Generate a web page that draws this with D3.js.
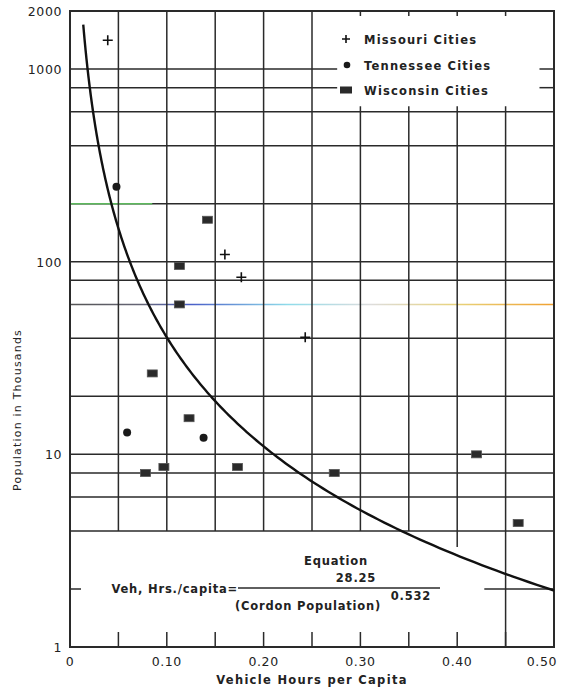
<!DOCTYPE html>
<html>
<head>
<meta charset="utf-8">
<script src="https://cdn.jsdelivr.net/npm/d3@7"></script>
<style>
  body { margin: 0; background: #fff; }
  text { font-family: "DejaVu Sans", sans-serif; fill: #222; }
</style>
</head>
<body>
<div id="chart"></div>
<script>
// data (x = vehicle hours per capita, y = population in thousands)
const missouriX = [0.039, 0.160, 0.177, 0.243];
const missouriY = [1410, 109, 83, 40.5];
const tennesseeX = [0.048, 0.059, 0.138];
const tennesseeY = [245, 13.0, 12.2];
const wisconsinX = [0.142, 0.113, 0.113, 0.085, 0.123, 0.078, 0.097, 0.173, 0.273, 0.420, 0.463];
const wisconsinY = [165, 95, 60, 26.3, 15.4, 8.0, 8.6, 8.6, 8.0, 10.0, 4.4];

// fitted equation shown on the chart: hrs = 28.25 / (population)^0.532
const eqCoef = 28.25, eqExp = 0.532;

const xTicks = [0, 0.1, 0.2, 0.3, 0.4, 0.5];
const xGrid = [0.05, 0.10, 0.15, 0.20, 0.25, 0.30, 0.35, 0.40, 0.45];
const yTicks = [1, 10, 100, 1000, 2000];
const yGrid = [4, 6, 8, 10, 20, 40, 60, 80, 100, 200, 400, 600, 800, 1000];

const W = 564, H = 689;
const margin = {top: 11, right: 10, bottom: 42, left: 70};

const svg = d3.select("#chart").append("svg")
    .attr("width", W).attr("height", H);

const x = d3.scaleLinear().domain([0, 0.5]).range([margin.left, W - margin.right]);
const y = d3.scaleLog().domain([1, 2000]).range([H - margin.bottom, margin.top]);

const ink = "#2a2a2a";

// colour artefacts of the scan on two grid lines
const defs = svg.append("defs");
const grad = defs.append("linearGradient").attr("id", "rainbow")
    .attr("gradientUnits", "userSpaceOnUse")
    .attr("x1", x(0)).attr("x2", x(0.5)).attr("y1", 0).attr("y2", 0);
[[0, "#555"], [0.15, "#667"], [0.25, "#4a5fc8"], [0.45, "#8fdcea"], [0.62, "#ddd"], [0.8, "#e8d27a"], [1, "#f0a030"]]
  .forEach(s => grad.append("stop").attr("offset", s[0]).attr("stop-color", s[1]));

// legend box region, where the grid is left out
const legX0 = x(0.276), legX1 = x(0.485), legY0 = y(1850), legY1 = y(640);

const grid = svg.append("g").attr("stroke", ink).attr("stroke-width", 1.5);

// horizontal grid
yGrid.forEach(v => {
  if (v === 1000 || v === 800) {
    grid.append("line").attr("x1", x(0)).attr("x2", legX0).attr("y1", y(v)).attr("y2", y(v));
    grid.append("line").attr("x1", legX1).attr("x2", x(0.5)).attr("y1", y(v)).attr("y2", y(v));
  } else {
    const l = grid.append("line").attr("x1", x(0)).attr("x2", x(0.5)).attr("y1", y(v)).attr("y2", y(v));
    if (v === 60) l.attr("stroke", "url(#rainbow)");
  }
});
// green tint on the 200 line
grid.append("line").attr("x1", x(0)).attr("x2", x(0.085)).attr("y1", y(200)).attr("y2", y(200))
    .attr("stroke", "#5cb85c");

// vertical grid
xGrid.forEach(v => {
  const bottom = v === 0.45 ? y(1) : (v === 0.40 ? y(3.3) : y(4));
  if (v >= 0.30) {
    grid.append("line").attr("x1", x(v)).attr("x2", x(v)).attr("y1", y(2000)).attr("y2", y(2000) + 5);
    grid.append("line").attr("x1", x(v)).attr("x2", x(v)).attr("y1", legY1).attr("y2", bottom);
  } else {
    grid.append("line").attr("x1", x(v)).attr("x2", x(v)).attr("y1", y(2000)).attr("y2", bottom);
  }
  // short tick from the bottom axis
  grid.append("line").attr("x1", x(v)).attr("x2", x(v)).attr("y1", y(1)).attr("y2", y(1) - 15);
});

// ticks at y = 2 on both sides
grid.append("line").attr("x1", x(0)).attr("x2", x(0) + 11).attr("y1", y(2)).attr("y2", y(2));
grid.append("line").attr("x1", x(0.428)).attr("x2", x(0.5)).attr("y1", y(2)).attr("y2", y(2));

// frame
svg.append("rect")
    .attr("x", x(0)).attr("y", y(2000))
    .attr("width", x(0.5) - x(0)).attr("height", y(1) - y(2000))
    .attr("fill", "none").attr("stroke", ink).attr("stroke-width", 2);

// axes labels
const xFmt = d => d === 0 ? "0" : d3.format(".2f")(d);
svg.append("g").selectAll("text").data(xTicks).join("text")
    .attr("x", d => d === 0.5 ? x(d) + 3 : x(d))
    .attr("y", y(1) + 19)
    .attr("text-anchor", d => d === 0.5 ? "end" : "middle")
    .style("font-size", "12.5px").style("letter-spacing", "0.6px")
    .text(xFmt);

svg.append("g").selectAll("text").data(yTicks).join("text")
    .attr("x", x(0) - 8).attr("y", d => y(d) + 5)
    .attr("text-anchor", "end")
    .style("font-size", "12.5px").style("letter-spacing", "0.6px")
    .text(d => d);

svg.append("text")
    .attr("x", x(0.25)).attr("y", H - 5)
    .attr("text-anchor", "middle")
    .style("font-size", "11.5px").style("font-weight", "bold").style("letter-spacing", "1.3px")
    .text("Vehicle Hours per Capita");

svg.append("text")
    .attr("transform", `translate(21, ${y(17)}) rotate(-90)`)
    .attr("text-anchor", "middle")
    .style("font-size", "11px").style("letter-spacing", "1.2px")
    .text("Population in Thousands");

// equation curve
const popMax = 1700, popMin = Math.pow(eqCoef / 0.5, 1 / eqExp) / 1000;
const curvePts = d3.range(0, 201).map(i => {
  const p = popMax * Math.pow(popMin / popMax, i / 200);
  return [eqCoef / Math.pow(p * 1000, eqExp), p];
});
svg.append("path")
    .datum(curvePts)
    .attr("d", d3.line().x(d => x(d[0])).y(d => y(d[1])))
    .attr("fill", "none").attr("stroke", "#111").attr("stroke-width", 2.4);

// points
const pts = svg.append("g");
pts.selectAll(".mo").data(d3.zip(missouriX, missouriY)).join("path")
    .attr("d", d => `M${x(d[0]) - 5},${y(d[1])}h10M${x(d[0])},${y(d[1]) - 5}v10`)
    .attr("stroke", "#111").attr("stroke-width", 1.6);
pts.selectAll(".tn").data(d3.zip(tennesseeX, tennesseeY)).join("circle")
    .attr("cx", d => x(d[0])).attr("cy", d => y(d[1])).attr("r", 4)
    .attr("fill", "#1a1a1a");
pts.selectAll(".wi").data(d3.zip(wisconsinX, wisconsinY)).join("rect")
    .attr("x", d => x(d[0]) - 5).attr("y", d => y(d[1]) - 3.5)
    .attr("width", 10).attr("height", 7)
    .attr("fill", "#2a2a2a").attr("stroke", "#555").attr("stroke-width", 0.8);

// legend
const legend = svg.append("g");
const legItems = ["Missouri Cities", "Tennessee Cities", "Wisconsin Cities"];
const legYs = [39, 65, 90];
legItems.forEach((t, i) => {
  const cx = 346, cy = legYs[i];
  if (i === 0) legend.append("path").attr("d", `M${cx - 4},${cy}h8M${cx},${cy - 4}v8`)
      .attr("stroke", "#111").attr("stroke-width", 1.6);
  if (i === 1) legend.append("circle").attr("cx", cx + 1).attr("cy", cy).attr("r", 3.3).attr("fill", "#1a1a1a");
  if (i === 2) legend.append("rect").attr("x", cx - 6).attr("y", cy - 3.5).attr("width", 12).attr("height", 7)
      .attr("fill", "#2a2a2a");
  legend.append("text").attr("x", 364).attr("y", cy + 4.5)
      .style("font-size", "11.5px").style("font-weight", "bold").style("letter-spacing", "1.2px")
      .text(t);
});

// equation box text
const eq = svg.append("g").style("font-size", "11.5px").style("font-weight", "bold").style("letter-spacing", "0.8px");
eq.append("text").attr("x", 336).attr("y", 565).attr("text-anchor", "middle").text("Equation");
eq.append("text").attr("x", 356).attr("y", 582).attr("text-anchor", "middle").text("28.25");
eq.append("text").attr("x", 238).attr("y", 593).attr("text-anchor", "end").text("Veh, Hrs./capita=");
eq.append("line").attr("x1", 238).attr("x2", 440).attr("y1", 588).attr("y2", 588)
    .attr("stroke", ink).attr("stroke-width", 1.3);
eq.append("text").attr("x", 235).attr("y", 610).text("(Cordon Population)");
eq.append("text").attr("x", 411).attr("y", 600).attr("text-anchor", "middle").text("0.532");
</script>
</body>
</html>
